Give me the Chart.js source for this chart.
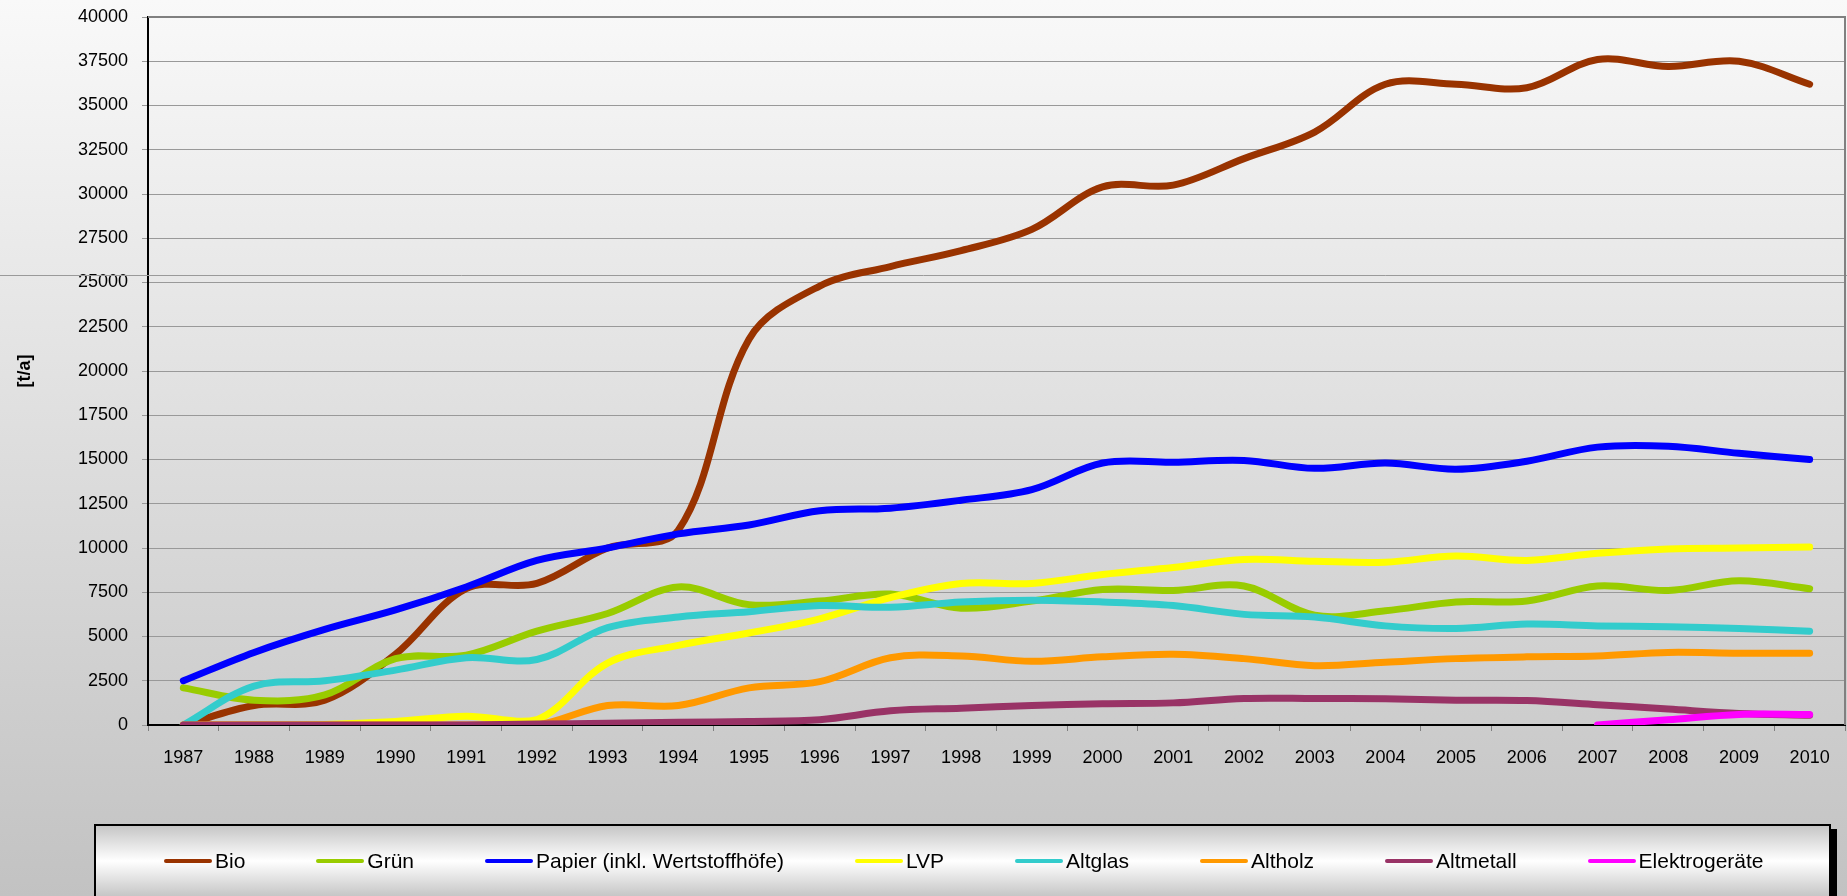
<!DOCTYPE html>
<html>
<head>
<meta charset="utf-8">
<title>Abfallmengen 1987-2010</title>
<script src="https://cdn.jsdelivr.net/npm/chart.js@4.4.1/dist/chart.umd.min.js"></script>
<style>
  html, body { margin: 0; padding: 0; overflow: hidden; }
  #wrap {
    position: relative; width: 1847px; height: 896px; overflow: hidden;
    background: linear-gradient(to bottom, #f9f9f9 0%, #c2c2c2 100%);
    font-family: "Liberation Sans", Arial, sans-serif;
  }
  #chart { position: absolute; left: 0; top: 0; }
  #legend {
    position: absolute; left: 94px; top: 824px; width: 1737px; height: 74px;
    box-sizing: border-box; border: 2px solid #000;
    background: linear-gradient(to bottom, #c6c6c6 0%, #ffffff 50%, #c6c6c6 100%);
    box-shadow: 6px 5px 0 #000;
    display: flex; align-items: center; padding-left: 68px; gap: 71px;
  }
  .item { display: flex; align-items: center; font-size: 21px; color: #000; white-space: nowrap; }
  .swatch { width: 48px; height: 4px; border-radius: 2px; margin-right: 3px; }
</style>
</head>
<body>
<div id="wrap">
  <canvas id="chart" width="1847" height="896"></canvas>
  <div id="legend"></div>
</div>
<script>
// Jahre
const years = ["1987", "1988", "1989", "1990", "1991", "1992", "1993", "1994", "1995", "1996", "1997", "1998",
  "1999", "2000", "2001", "2002", "2003", "2004", "2005", "2006", "2007", "2008", "2009", "2010"];

// Mengen in t/a
const bio = [0, 1100, 1400, 4000, 7700, 8000, 10000, 11000, 21800, 24800, 25900, 26800,
  28000, 30400, 30500, 32000, 33500, 36200, 36200, 36000, 37600, 37200, 37500, 36200];
const gruen = [2100, 1400, 1700, 3750, 3950, 5300, 6300, 7800, 6800, 7000, 7400, 6600,
  7000, 7650, 7600, 7850, 6200, 6450, 6950, 7000, 7850, 7600, 8150, 7700];
const papier = [2500, 4100, 5400, 6500, 7800, 9300, 10000, 10800, 11300, 12100, 12250, 12700,
  13300, 14800, 14850, 14950, 14500, 14800, 14450, 14900, 15700, 15750, 15350, 15000];
const lvp = [0, 0, 30, 200, 500, 300, 3500, 4500, 5200, 6000, 7200, 8000,
  8000, 8500, 8900, 9350, 9250, 9200, 9550, 9300, 9700, 9950, 10000, 10050];
const altglas = [0, 2200, 2500, 3100, 3800, 3700, 5500, 6100, 6400, 6750, 6650, 6950,
  7050, 6950, 6750, 6250, 6100, 5600, 5450, 5700, 5600, 5550, 5450, 5300];
const altholz = [0, 0, 0, 0, 0, 0, 1100, 1100, 2100, 2450, 3800, 3900,
  3600, 3850, 4000, 3750, 3350, 3550, 3750, 3850, 3900, 4100, 4050, 4050];
const altmetall = [0, 0, 0, 0, 0, 50, 100, 150, 200, 300, 800, 950,
  1100, 1200, 1250, 1500, 1500, 1480, 1400, 1380, 1150, 900, 650, 550];
const elektro = [null, null, null, null, null, null, null, null, null, null, null, null,
  null, null, null, null, null, null, null, null, 0, 300, 600, 600];

const seriesNames = ["Bio", "Grün", "Papier (inkl. Wertstoffhöfe)", "LVP", "Altglas", "Altholz", "Altmetall", "Elektrogeräte"];
const seriesData = [bio, gruen, papier, lvp, altglas, altholz, altmetall, elektro];
const seriesColors = ["#993300", "#99cc00", "#0000ff", "#ffff00", "#33cccc", "#ff9900", "#993366", "#ff00ff"];

// Rahmen oben/rechts um die Zeichenflaeche
const areaBorder = {
  id: "areaBorder",
  beforeDatasetsDraw(chart) {
    const { ctx, width } = chart;
    ctx.save();
    ctx.strokeStyle = "#9a9a9a";
    ctx.lineWidth = 1;
    ctx.beginPath();
    ctx.moveTo(0, 275.5);
    ctx.lineTo(width, 275.5);
    ctx.stroke();
    ctx.restore();
  },
  afterDraw(chart) {
    const { ctx, chartArea: a } = chart;
    ctx.save();
    ctx.strokeStyle = "#808080";
    ctx.lineWidth = 2;
    ctx.beginPath();
    ctx.moveTo(a.left, a.top);
    ctx.lineTo(a.right, a.top);
    ctx.lineTo(a.right, a.bottom);
    ctx.stroke();
    ctx.restore();
  }
};

const ctx = document.getElementById("chart").getContext("2d");

const chart = new Chart(ctx, {
  type: "line",
  data: {
    labels: years,
    datasets: seriesNames.map((name, i) => ({
      label: name,
      data: seriesData[i],
      borderColor: seriesColors[i],
      backgroundColor: seriesColors[i],
      order: seriesNames.length - i,
      fill: false
    }))
  },
  options: {
    responsive: false,
    animation: false,
    layout: { padding: { top: 17, right: 2, bottom: 121, left: 0 } },
    elements: {
      point: { radius: 0, hoverRadius: 0 },
      line: { borderWidth: 7, tension: 0.35, borderCapStyle: "round", borderJoinStyle: "round" }
    },
    plugins: {
      legend: { display: false },
      tooltip: { enabled: false }
    },
    scales: {
      x: {
        offset: true,
        grid: { offset: true, drawOnChartArea: false, color: "#808080", tickLength: 6 },
        border: { color: "#000", width: 2 },
        ticks: { color: "#000", font: { size: 18 }, padding: 16, maxRotation: 0, autoSkip: false },
        afterFit: scale => { scale.height = 50; }
      },
      y: {
        min: 0,
        max: 40000,
        ticks: {
          stepSize: 2500,
          color: "#000",
          font: { size: 18 },
          padding: 14,
          callback: value => String(value)
        },
        grid: { color: "#999", tickLength: 6 },
        border: { color: "#000", width: 2 },
        title: {
          display: true,
          text: "[t/a]",
          color: "#000",
          font: { size: 18, weight: "bold" },
          padding: { top: 14, bottom: 0 }
        },
        afterFit: scale => {
          scale.width = 148;
          scale.paddingTop = 0;
          scale.paddingBottom = 0;
        }
      }
    }
  },
  plugins: [areaBorder]
});

// Legende als HTML
const legendEl = document.getElementById("legend");
chart.data.datasets.forEach(ds => {
  const item = document.createElement("div");
  item.className = "item";
  const sw = document.createElement("span");
  sw.className = "swatch";
  sw.style.background = ds.borderColor;
  const txt = document.createElement("span");
  txt.textContent = ds.label;
  item.appendChild(sw);
  item.appendChild(txt);
  legendEl.appendChild(item);
});
</script>
</body>
</html>
